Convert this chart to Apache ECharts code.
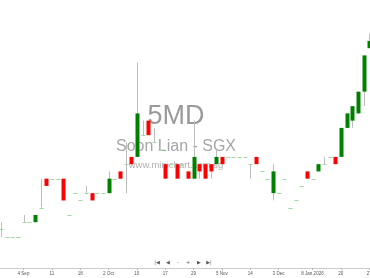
<!DOCTYPE html>
<html>
<head>
<meta charset="utf-8">
<script src="https://cdn.jsdelivr.net/npm/echarts@6/dist/echarts.min.js"></script>
<style>
html,body{margin:0;padding:0;background:#fff;}
#chart{width:370px;height:278px;}
</style>
</head>
<body>
<div id="chart"></div>
<script>
// Trading dates (one per candle)
var dates = ['29 Aug','1 Sep','2 Sep','3 Sep','4 Sep','5 Sep','8 Sep','9 Sep','10 Sep','11 Sep',
  '12 Sep','15 Sep','16 Sep','17 Sep','18 Sep','19 Sep','22 Sep','24 Sep','29 Sep','2 Oct',
  '3 Oct','6 Oct','7 Oct','8 Oct','10 Oct','13 Oct','14 Oct','15 Oct','16 Oct','17 Oct',
  '21 Oct','22 Oct','23 Oct','27 Oct','29 Oct','30 Oct','31 Oct','3 Nov','4 Nov','5 Nov',
  '6 Nov','7 Nov','10 Nov','12 Nov','14 Nov','17 Nov','19 Nov','24 Nov','28 Nov','3 Dec',
  '8 Dec','12 Dec','17 Dec','23 Dec','30 Dec','8 Jan 2026','9 Jan','12 Jan','13 Jan','15 Jan',
  '20 Jan','21 Jan','22 Jan','23 Jan','26 Jan','27 Jan'];

var open  = [.155,.150,.150,.150,.160,.160,.160,.170,.190,.190,
             .190,.190,.165,.180,.175,.180,.180,.180,.180,.180,
             .190,.195,.200,.205,.205,.220,.230,.215,.210,.200,
             .200,.200,.200,.195,.190,.200,.200,.200,.200,.205,
             .205,.205,.205,.205,.200,.205,.195,.190,.180,.180,
             .190,.170,.175,.185,.195,.190,.195,.200,.205,.205,
             .205,.225,.230,.235,.250,.280];
var close = [.155,.150,.150,.150,.160,.160,.165,.170,.185,.190,
             .190,.175,.165,.180,.175,.180,.175,.180,.180,.190,
             .190,.190,.200,.200,.235,.220,.220,.215,.210,.190,
             .200,.190,.200,.190,.205,.195,.190,.195,.205,.200,
             .205,.205,.205,.205,.200,.200,.195,.190,.195,.180,
             .190,.170,.175,.185,.190,.190,.200,.200,.205,.200,
             .225,.235,.240,.250,.275,.285];
var low   = [.150,.150,.150,.150,.160,.160,.160,.170,.185,.190,
             .190,.175,.165,.180,.175,.180,.175,.180,.180,.180,
             .190,.190,.180,.200,.205,.220,.220,.215,.210,.190,
             .200,.190,.200,.190,.190,.190,.190,.190,.200,.200,
             .205,.205,.205,.205,.190,.200,.195,.190,.175,.180,
             .190,.170,.175,.185,.190,.190,.195,.200,.205,.200,
             .205,.225,.225,.235,.240,.280];
var high  = [.160,.150,.150,.150,.165,.160,.165,.190,.190,.190,
             .190,.190,.165,.180,.175,.185,.180,.180,.180,.195,
             .190,.195,.215,.205,.270,.230,.230,.225,.210,.200,
             .200,.200,.200,.195,.230,.200,.200,.200,.210,.205,
             .205,.205,.205,.205,.200,.205,.195,.190,.200,.180,
             .190,.170,.175,.185,.195,.190,.200,.205,.205,.205,
             .225,.235,.240,.250,.275,.290];

// Axis tick labels (category index -> text)
var tickIdx  = [4, 9, 14, 19, 24, 29, 34, 39, 44, 49, 55, 60, 65];
var tickText = ['4 Sep','11','18','2 Oct','10','17','29','5 Nov','14','3 Dec','8 Jan 2026','20','27'];

var data = dates.map(function (d, i) { return [i, open[i], close[i], low[i], high[i]]; });

function isTick(index) { return tickIdx.indexOf(index) >= 0; }

var chart = echarts.init(document.getElementById('chart'), null, {renderer: 'canvas'});

var navButtons = ['|◀', '◀', '–', '+', '▶', '▶|'];
var navX = [157, 168, 178, 188, 199, 209];

var graphics = [
  {type: 'text', x: 176, y: 117, z: 0, silent: true,
   style: {text: '5MD', fill: '#9a9a9a', font: '27px "Liberation Sans", Arial, sans-serif', align: 'center', verticalAlign: 'middle'}},
  {type: 'text', x: 176, y: 146.5, z: 0, silent: true,
   style: {text: 'Soon Lian - SGX', fill: '#a6a6a6', font: '16px "Liberation Sans", Arial, sans-serif', align: 'center', verticalAlign: 'middle'}},
  {type: 'text', x: 176, y: 165.5, z: 0, silent: true,
   style: {text: 'www.minichart.com.sg', fill: '#b0b0b0', font: '9.5px "Liberation Sans", Arial, sans-serif', align: 'center', verticalAlign: 'middle'}}
];
navButtons.forEach(function (t, k) {
  graphics.push({type: 'text', x: navX[k], y: 263, z: 10,
    style: {text: t, fill: '#555', font: '5px "DejaVu Sans", sans-serif', align: 'center', verticalAlign: 'middle'}});
});

chart.setOption({
  animation: false,
  backgroundColor: '#fff',
  grid: {left: -2, right: -2, top: 0, bottom: 10, containLabel: false, outerBoundsMode: 'none'},
  graphic: graphics,
  xAxis: {
    type: 'category',
    data: dates,
    boundaryGap: true,
    axisLine: {show: true, lineStyle: {color: '#cccccc', width: 1}},
    axisTick: {show: true, alignWithLabel: true, interval: isTick, length: 2, lineStyle: {color: '#bbbbbb'}},
    axisLabel: {
      show: true, interval: isTick, margin: 3, hideOverlap: false,
      fontSize: 4.5, color: '#555', fontFamily: '"Liberation Sans", Arial, sans-serif',
      formatter: function (v, i) { var k = tickIdx.indexOf(i); return k >= 0 ? tickText[k] : ''; }
    },
    splitLine: {show: false}
  },
  yAxis: {
    type: 'value', min: 0.1284, max: 0.3132, show: false,
    splitLine: {show: false}
  },
  series: [{
    type: 'custom',
    z: 5,
    clip: false,
    encode: {x: 0, y: [1, 2, 3, 4]},
    data: data,
    renderItem: function (params, api) {
      var i = api.value(0), o = api.value(1), c = api.value(2), l = api.value(3), h = api.value(4);
      var pO = api.coord([i, o]), pC = api.coord([i, c]), pL = api.coord([i, l]), pH = api.coord([i, h]);
      var band = api.size([1, 0])[0];
      var w = Math.max(3, Math.round(band * 0.72));
      var x = Math.round(pO[0]);
      var children = [];
      if (h > l) {
        children.push({type: 'line', shape: {x1: x + 0.5, y1: pH[1], x2: x + 0.5, y2: pL[1]},
          style: {stroke: '#bdbdbd', lineWidth: 1}});
      }
      if (o === c) {
        var yy = Math.round(pO[1]) + 0.5;
        children.push({type: 'line', shape: {x1: x + 0.5 - w / 2, y1: yy, x2: x + 0.5 + w / 2, y2: yy},
          style: {stroke: '#a3d6a3', lineWidth: 1}});
      } else {
        children.push({type: 'rect',
          shape: {x: x + 0.5 - w / 2, y: Math.min(pO[1], pC[1]), width: w, height: Math.abs(pO[1] - pC[1])},
          style: {fill: c > o ? '#008000' : '#ff0000'}});
      }
      return {type: 'group', children: children};
    }
  }]
});
</script>
</body>
</html>
